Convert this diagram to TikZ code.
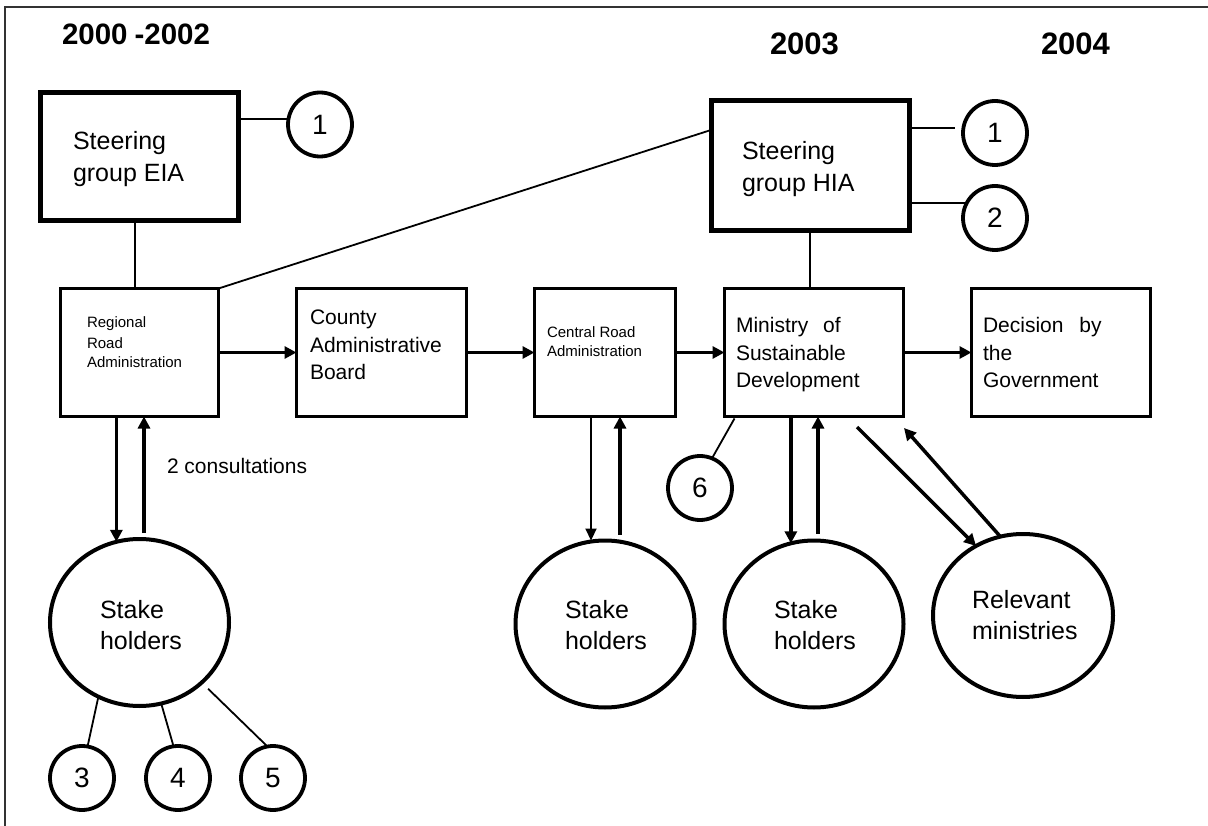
\documentclass[tikz,border=0pt]{standalone}
\usepackage{fontspec}
\setmainfont{Liberation Sans}
\usetikzlibrary{arrows.meta,shapes.geometric}
\begin{document}
\begin{tikzpicture}[x=1pt,y=-1pt,
  box/.style={draw,rectangle,line width=3.6pt,inner sep=0pt,outer sep=0pt},
  sbox/.style={box,line width=5pt},
  num/.style={draw,circle,line width=3.8pt,minimum size=64pt,inner sep=0pt,outer sep=0pt,font=\fontsize{28}{28}\selectfont},
  oval/.style={draw,ellipse,line width=4pt,inner sep=0pt,outer sep=0pt,minimum width=179pt,minimum height=167pt},
  lbl/.style={anchor=base west,align=left,inner sep=0pt,outer sep=0pt},
  link/.style={line width=1.8pt},
  arr/.style={line width=3.5pt,-{Triangle[length=12pt,width=12pt]}},
  thinarr/.style={line width=2.2pt,-{Triangle[length=12pt,width=11pt]}},
  year/.style={anchor=base west,inner sep=0pt,outer sep=0pt,font=\bfseries\fontsize{31}{31}\selectfont}
]
\useasboundingbox (0,0) rectangle (1208,826);
% frame
\draw[line width=2pt,black!80] (5,826) -- (5,7) -- (1208,7);

% years
\node[year,font=\bfseries\fontsize{29.5}{29.5}\selectfont] (y1) at (62,45) {2000\kern7pt-2002};
\node[year] (y2) at (770,55) {2003};
\node[year] (y3) at (1041,55) {2004};

% boxes
\node[sbox,minimum width=198pt,minimum height=128pt] (EIA) at (139,157) {};
\node[sbox,minimum width=198pt,minimum height=130pt] (HIA) at (810,166) {};
\node[box,minimum width=158pt,minimum height=128pt] (RRA) at (139.5,352.5) {};
\node[box,minimum width=170pt,minimum height=128pt] (CAB) at (381.5,352.5) {};
\node[box,minimum width=141pt,minimum height=128pt] (CRA) at (605,352.5) {};
\node[box,minimum width=179pt,minimum height=128pt] (MSD) at (814,352.5) {};
\node[box,minimum width=179pt,minimum height=128pt] (DEC) at (1061,352.5) {};

% box texts (anchored at the baseline of the last line)
\node[lbl,font=\fontsize{25}{32}\selectfont] (tEIA) at (73,182) {Steering\\group EIA};
\node[lbl,font=\fontsize{25}{32}\selectfont] (tHIA) at (742,192) {Steering\\group HIA};
\node[lbl,font=\fontsize{15}{20}\selectfont] (tRRA) at (87,368) {Regional\\Road\\Administration};
\node[lbl,font=\fontsize{21}{27.5}\selectfont] (tCAB) at (310,380) {County\\Administrative\\Board};
\node[lbl,font=\fontsize{15}{20}\selectfont] (tCRA) at (547,357) {Central Road\\Administration};
\node[lbl,font=\fontsize{21}{27.5}\selectfont] (tMSD) at (736,388) {Ministry\hspace{9pt} of\\Sustainable\\Development};
\node[lbl,font=\fontsize{21}{27.5}\selectfont] (tDEC) at (983,388) {Decision\hspace{10pt} by\\the\\Government};

% numbered circles
\node[num] (n1a) at (320,124.5) {1};
\node[num] (n1b) at (995,133) {1};
\node[num] (n2) at (995,218) {2};
\node[num] (n3) at (82,778) {3};
\node[num] (n4) at (178,778) {4};
\node[num] (n5) at (273,778) {5};
\node[num] (n6) at (700,488) {6};

% big circles
\node[oval] (SH1) at (139.5,622.5) {};
\node[oval] (SH2) at (605,624) {};
\node[oval] (SH3) at (814,624) {};
\node[oval,minimum width=180pt,minimum height=163pt] (REL) at (1023,615.5) {};

\node[lbl,font=\fontsize{25}{31}\selectfont] (tSH1) at (100,649) {Stake\\holders};
\node[lbl,font=\fontsize{25}{31}\selectfont] (tSH2) at (565,649) {Stake\\holders};
\node[lbl,font=\fontsize{25}{31}\selectfont] (tSH3) at (774,649) {Stake\\holders};
\node[lbl,font=\fontsize{25}{31}\selectfont] (tREL) at (972,639) {Relevant\\ministries};

\node[lbl,font=\fontsize{21}{21}\selectfont] (cons) at (167,473) {2 consultations};

% plain links
\draw[link] (n1a.170) -- (n1a.170 -| EIA.east);
\coordinate (h1s) at ([yshift=5pt]HIA.east |- n1b.west);
\coordinate (h1e) at ([xshift=-8pt,yshift=5pt]n1b.west);
\draw[link] (h1s) -- (h1e);
\draw[link] (n2.152 -| HIA.east) -- (n2.152);
\coordinate (e1) at ([xshift=-4pt]EIA.south);
\draw[link] (e1) -- (e1 |- RRA.north);
\coordinate (h2) at ([yshift=-29pt]HIA.north west);
\draw[link] (RRA.north east) -- (h2);
\draw[link] (HIA.south) -- (HIA.south |- MSD.north);
\coordinate (m6) at ([xshift=10pt,yshift=-2pt]MSD.south west);
\draw[link] (n6.68) -- (m6);
\draw[link] (SH1.241) -- (n3.80);
\draw[link] (SH1.285) -- (n4.98);
\draw[link,shorten <=9pt] (SH1.316) -- (n5.100);

% main flow
\draw[arr] (RRA.east) -- (CAB.west);
\draw[arr] (CAB.east) -- (CRA.west);
\draw[arr] (CRA.east) -- (MSD.west);
\draw[arr] (MSD.east) -- (DEC.west);

% consultations
\draw[arr] (SH1.106 |- RRA.south) -- (SH1.106);
\coordinate (u1) at ([xshift=4.5pt,yshift=6pt]SH1.north);
\draw[arr] (u1) -- (u1 |- RRA.south);

\coordinate (d2) at ([xshift=-14pt]SH2.north);
\draw[thinarr] (d2 |- CRA.south) -- (d2);
\coordinate (u2) at ([xshift=15pt,yshift=6pt]SH2.north);
\draw[arr] (u2) -- (u2 |- CRA.south);

\draw[arr] (SH3.106 |- MSD.south) -- (SH3.106);
\coordinate (u3) at ([xshift=4pt,yshift=7pt]SH3.north);
\draw[arr] (u3) -- (u3 |- MSD.south);

\coordinate (d4) at (857,427);
\draw[arr] (d4) -- (REL.124);
\coordinate (u4) at (904,428);
\draw[arr] (REL.106) -- (u4);
\end{tikzpicture}
\end{document}
